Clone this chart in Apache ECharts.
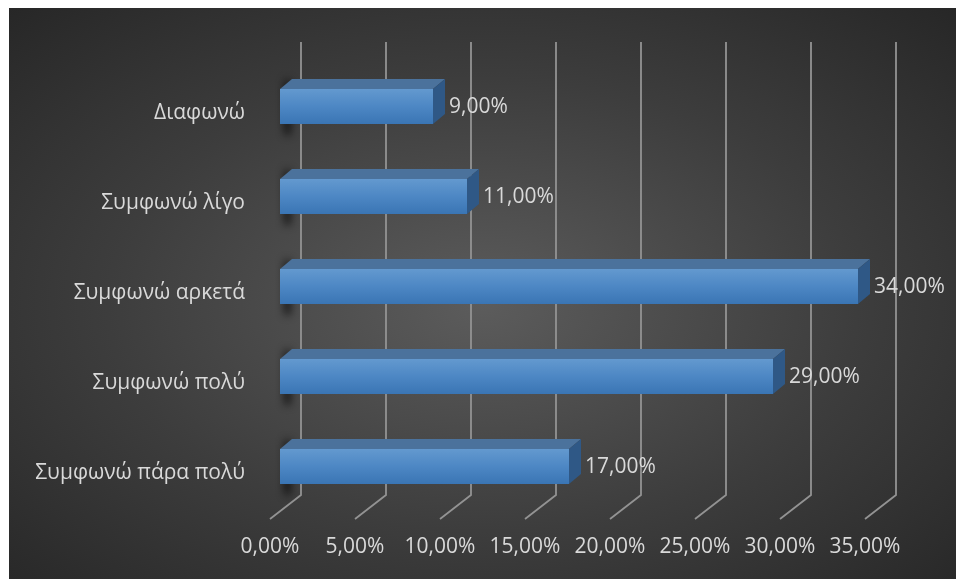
<!DOCTYPE html>
<html>
<head>
<meta charset="utf-8">
<script src="https://cdn.jsdelivr.net/npm/echarts@6/dist/echarts.min.js"></script>
<style>
  html, body { margin: 0; padding: 0; background: #ffffff; }
  #chart {
    position: absolute; left: 9px; top: 8px; width: 947px; height: 571px;
    background: radial-gradient(ellipse 72% 72% at 50% 52%, #5c5c5c 0%, #3d3d3d 55%, #272727 100%);
  }
</style>
</head>
<body>
<div id="chart"></div>
<script>
// Survey answers, listed bottom to top as the category axis draws them
const categories = ['Συμφωνώ πάρα πολύ', 'Συμφωνώ πολύ', 'Συμφωνώ αρκετά', 'Συμφωνώ λίγο', 'Διαφωνώ'];
const percentages = [17, 29, 34, 11, 9];
const axisTicks = [0, 5, 10, 15, 20, 25, 30, 35];

const fmt = v => v.toFixed(2).replace('.', ',') + '%';
const textColor = '#d9d9d9';
const fontFamily = '"Open Sans", "Noto Sans", sans-serif';
const fontSize = 21;

// 3D depth of a bar (pixels)
const BAR_DX = 12, BAR_DY = -10;
// a shape drawn far off to the left so that only its blurred shadow lands on the wall
const SHADOW_SHIFT = 3000;

const chart = echarts.init(document.getElementById('chart'), null, { renderer: 'canvas' });

chart.setOption({
  animation: false,
  grid: { left: 271, top: 60, width: 595, height: 450 },
  xAxis: {
    type: 'value', min: 0, max: 35, interval: 5,
    axisLine: { show: false }, axisTick: { show: false }, splitLine: { show: false },
    axisLabel: {
      margin: 19, color: textColor, fontSize: fontSize, fontFamily: fontFamily,
      padding: [0, 20, 0, 0],
      formatter: v => fmt(v)
    }
  },
  yAxis: {
    type: 'category', data: categories,
    axisLine: { show: false }, axisTick: { show: false }, splitLine: { show: false },
    axisLabel: { margin: 35, color: textColor, fontSize: fontSize, fontFamily: fontFamily }
  },
  series: [
    {
      // back wall gridlines bending onto the floor
      type: 'custom',
      z: 1,
      data: axisTicks.map(t => [t, 0]),
      encode: { x: 0, y: 1 },
      renderItem(params, api) {
        const cs = params.coordSys;
        const x = api.coord([api.value(0), 0])[0];
        const top = cs.y - 26, bottom = cs.y + cs.height;
        return {
          type: 'polyline',
          shape: { points: [[x + 21, top], [x + 21, bottom - 23], [x - 10, bottom + 1]] },
          style: { stroke: '#939393', lineWidth: 1.8, fill: null }
        };
      }
    },
    {
      type: 'custom',
      z: 3,
      data: percentages.map((v, i) => [v, i]),
      encode: { x: 0, y: 1 },
      renderItem(params, api) {
        const v = api.value(0), ci = api.value(1);
        const p0 = api.coord([0, ci]);
        const p1 = api.coord([v, ci]);
        const cy = p0[1];
        const x0 = p0[0], x1 = p1[0];
        const y0 = cy - 24, y1 = cy + 11;
        return {
          type: 'group',
          children: [
            {
              // soft shadow behind the bar's left end
              type: 'rect',
              shape: { x: x0 + 5 - SHADOW_SHIFT, y: y0 - 9, width: 5, height: (y1 - y0) + 20, r: 2.5 },
              style: {
                fill: '#000', shadowBlur: 9, shadowColor: 'rgba(0,0,0,0.95)',
                shadowOffsetX: SHADOW_SHIFT, shadowOffsetY: 0
              }
            },
            {
              type: 'polygon',
              shape: { points: [[x0, y0], [x0 + BAR_DX, y0 + BAR_DY], [x1 + BAR_DX, y0 + BAR_DY], [x1, y0]] },
              style: { fill: '#4b729c' }
            },
            {
              type: 'polygon',
              shape: { points: [[x1, y0], [x1 + BAR_DX, y0 + BAR_DY], [x1 + BAR_DX, y1 + BAR_DY], [x1, y1]] },
              style: { fill: '#2f5886' }
            },
            {
              type: 'rect',
              shape: { x: x0, y: y0, width: x1 - x0, height: y1 - y0 },
              style: {
                fill: new echarts.graphic.LinearGradient(0, 0, 0, 1, [
                  { offset: 0, color: '#6399cf' },
                  { offset: 0.5, color: '#4d87c4' },
                  { offset: 1, color: '#3a75b4' }
                ])
              }
            },
            {
              type: 'text',
              style: {
                text: fmt(v), x: x1 + BAR_DX + 4, y: cy - 6,
                verticalAlign: 'middle', align: 'left',
                fill: textColor, font: fontSize + 'px ' + fontFamily
              }
            }
          ]
        };
      }
    }
  ]
});
</script>
</body>
</html>
